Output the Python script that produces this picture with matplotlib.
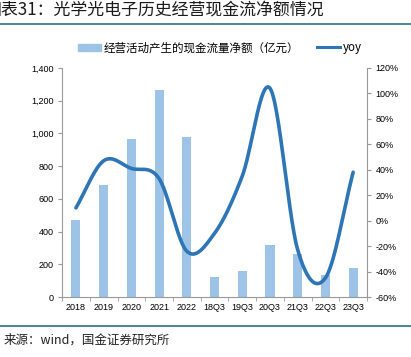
import numpy as np
import matplotlib
matplotlib.use('Agg')
import matplotlib.pyplot as plt
from matplotlib.lines import Line2D
from matplotlib.patches import Patch

plt.rcParams['font.family'] = ['Liberation Sans', 'Noto Sans CJK SC', 'DejaVu Sans']

categories = ['2018', '2019', '2020', '2021', '2022', '18Q3', '19Q3', '20Q3', '21Q3', '22Q3', '23Q3']
cash_flow = [470, 685, 965, 1265, 975, 120, 160, 320, 265, 135, 180]
yoy = [10, 47, 41, 33, -24, -10, 35, 104, -23, -45, 38]

bar_color = '#9DC3E6'
line_color = '#2E75B6'


def smooth(xs, ys, n=30):
    # catmull-rom, roughly like excel's smoothed line
    xs = np.asarray(xs, float)
    ys = np.asarray(ys, float)
    px = np.concatenate([[2 * xs[0] - xs[1]], xs, [2 * xs[-1] - xs[-2]]])
    py = np.concatenate([[2 * ys[0] - ys[1]], ys, [2 * ys[-1] - ys[-2]]])
    outx, outy = [], []
    for i in range(1, len(px) - 2):
        t = np.linspace(0, 1, n)
        for p, out in ((px, outx), (py, outy)):
            p0, p1, p2, p3 = p[i - 1], p[i], p[i + 1], p[i + 2]
            out.extend(0.5 * ((2 * p1) + (-p0 + p2) * t +
                              (2 * p0 - 5 * p1 + 4 * p2 - p3) * t ** 2 +
                              (-p0 + 3 * p1 - 3 * p2 + p3) * t ** 3))
    return np.array(outx), np.array(outy)


fig = plt.figure(figsize=(4.11, 3.57), dpi=100)
ax = fig.add_axes([0.151, 0.168, 0.742, 0.642])
x = np.arange(len(categories))

ax.bar(x, cash_flow, width=0.33, color=bar_color, zorder=2)
ax.set_ylim(0, 1400)
ax.set_yticks(np.arange(0, 1401, 200))
ax.set_yticklabels([f'{v:,}' for v in range(0, 1401, 200)], fontsize=6.5)
ax.set_xlim(-0.5, len(categories) - 0.5)
ax.set_xticks(x)
ax.set_xticklabels(categories, fontsize=6.5)
ax.set_xticks(np.arange(-0.5, len(categories), 1), minor=True)
ax.tick_params(axis='x', which='major', length=0, pad=4)
ax.tick_params(axis='x', which='minor', length=3, color='#999999')
ax.tick_params(axis='y', length=3, color='#999999', pad=3)
for s in ['top', 'right']:
    ax.spines[s].set_visible(False)
for s in ['left', 'bottom']:
    ax.spines[s].set_color('#999999')
    ax.spines[s].set_linewidth(0.8)

ax2 = ax.twinx()
sx, sy = smooth(x, yoy)
ax2.plot(sx, sy, color=line_color, linewidth=2.6, solid_capstyle='round', zorder=3)
ax2.set_ylim(-60, 120)
ax2.set_yticks(np.arange(-60, 121, 20))
ax2.set_yticklabels([f'{v}%' for v in range(-60, 121, 20)], fontsize=6.5)
ax2.tick_params(axis='y', length=3, color='#999999', pad=3)
for s in ['top', 'left', 'bottom']:
    ax2.spines[s].set_visible(False)
ax2.spines['right'].set_color('#999999')
ax2.spines['right'].set_linewidth(0.8)

handles = [Patch(color=bar_color), Line2D([0], [0], color=line_color, linewidth=2.2)]
labels = ['经营活动产生的现金流量净额（亿元）', 'yoy']
fig.legend(handles, labels, loc='center', bbox_to_anchor=(0.535, 0.866), ncol=2,
           frameon=False, handlelength=2.0, handleheight=0.6,
           columnspacing=1.6, handletextpad=0.2,
           prop={'family': ['Noto Sans CJK SC'], 'size': 8.3})

fig.text(-15 / 411, 1 - 10 / 357, '图表31：光学光电子历史经营现金流净额情况',
         fontsize=12.2, fontweight='medium', va='center', ha='left', color='#1a1a1a',
         family=['Noto Sans CJK SC'], style='italic')
fig.add_artist(Line2D([0, 1], [1 - 24 / 357, 1 - 24 / 357], color='#2E6E8E', linewidth=1.2))
fig.add_artist(Line2D([0, 1], [1 - 326 / 357, 1 - 326 / 357], color='#2E6E8E', linewidth=1.2))
fig.text(4 / 411, 1 - 340 / 357, '来源：wind，国金证券研究所', fontsize=9, va='center',
         ha='left', family=['Noto Sans CJK SC'], color='#222222')

fig.savefig('out.png', dpi=100)
